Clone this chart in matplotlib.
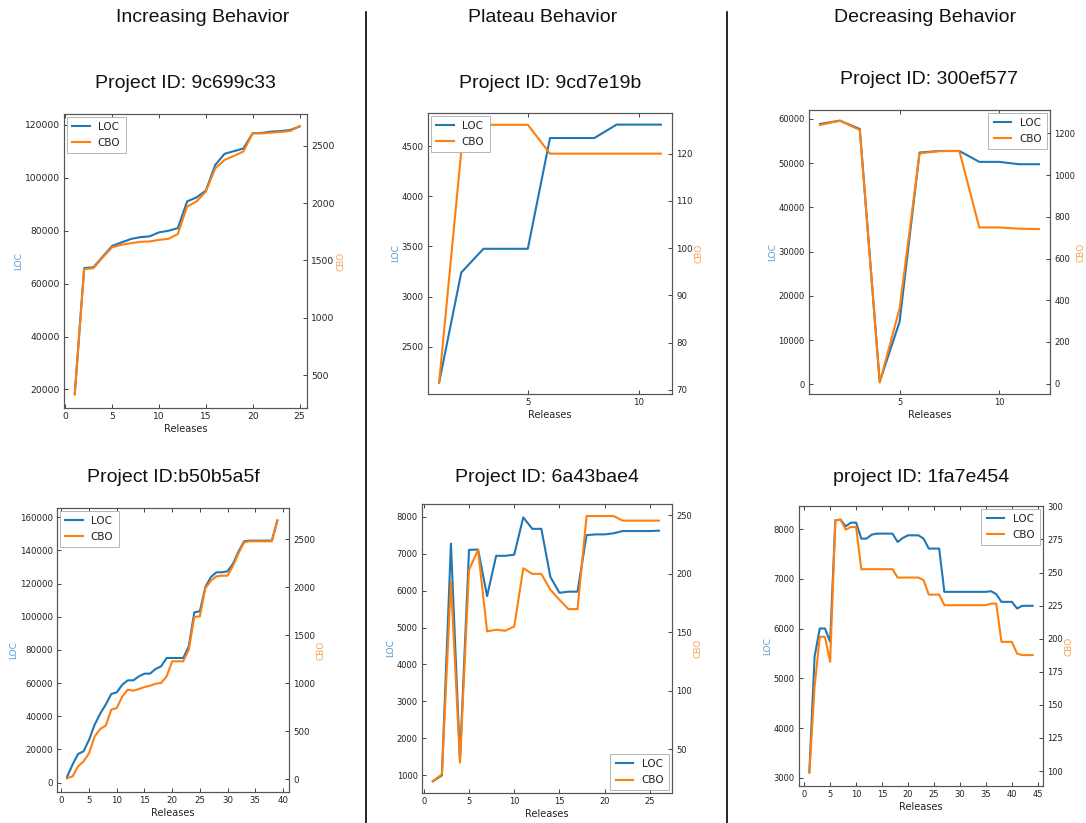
import matplotlib
matplotlib.use("Agg")
import matplotlib.pyplot as plt
from matplotlib.lines import Line2D

# ---------------- data ----------------
headers = ["Increasing Behavior", "Plateau Behavior", "Decreasing Behavior"]
titles = ["Project ID: 9c699c33", "Project ID: 9cd7e19b", "Project ID: 300ef577",
          "Project ID:b50b5a5f", "Project ID: 6a43bae4", "project ID: 1fa7e454"]

loc_9c699c33 = [18600, 65900, 66200, 70300, 74300, 75600, 76900, 77600, 77900, 79400,
                80000, 81000, 91100, 92600, 95200, 104900, 109100, 110100, 111100, 116900,
                117000, 117500, 117700, 118100, 119400]
cbo_9c699c33 = [328, 1424, 1433, 1529, 1616, 1637, 1651, 1663, 1666, 1680,
                1689, 1730, 1971, 2015, 2102, 2305, 2378, 2413, 2451, 2610,
                2610, 2616, 2622, 2631, 2674]

loc_9cd7e19b = [2140, 3240, 3477, 3477, 3477, 4583, 4583, 4583, 4717, 4717, 4717]
cbo_9cd7e19b = [71.5, 120.5, 126.1, 126.1, 126.1, 120, 120, 120, 120, 120, 120]

loc_300ef577 = [58870, 59620, 57740, 600, 14180, 52410, 52770, 52770, 50300, 50300, 49770, 49770]
cbo_300ef577 = [1240, 1261, 1216, 5, 361, 1104, 1115, 1115, 749, 749, 743, 741]

loc_b50b5a5f = [3400, 10850, 17290, 18890, 25930, 34970, 41600, 47040, 53470, 54470,
                59100, 61700, 61700, 64120, 65730, 65730, 68540, 70150, 75180, 75180,
                75180, 75180, 82210, 102710, 103320, 117990, 124020, 126830, 126830, 127440,
                132060, 139500, 145530, 145930, 145930, 145930, 145930, 145930, 158000]
cbo_b50b5a5f = [7, 28, 132, 184, 271, 444, 521, 556, 722, 740,
                861, 931, 920, 938, 958, 972, 993, 1000, 1069, 1226,
                1226, 1226, 1347, 1688, 1694, 1990, 2066, 2111, 2118, 2118,
                2222, 2354, 2465, 2476, 2476, 2476, 2476, 2476, 2694]

loc_6a43bae4 = [838, 1000, 7270, 1425, 7100, 7110, 5850, 6940, 6940, 6970,
                7980, 7670, 7670, 6370, 5940, 5970, 5970, 7500, 7520, 7520,
                7550, 7610, 7610, 7610, 7610, 7620]
cbo_6a43bae4 = [22.7, 28.4, 193.2, 38.4, 203.1, 220.2, 150.6, 152.0, 151.1, 154.8,
                204.5, 199.7, 199.7, 186.1, 177.6, 169.6, 169.6, 249.1, 249.1, 249.1,
                249.1, 245.2, 245.2, 245.2, 245.2, 245.2]

loc_1fa7e454 = [3124, 5435, 6004, 6004, 5736, 8181, 8194, 8060, 8134, 8134,
                7812, 7812, 7893, 7913, 7913, 7913, 7913, 7745, 7826, 7879,
                7879, 7879, 7812, 7612, 7612, 7612, 6741, 6741, 6741, 6741,
                6741, 6741, 6741, 6741, 6741, 6754, 6694, 6540, 6540, 6540,
                6406, 6460, 6460, 6460]
cbo_1fa7e454 = [98.7, 163.6, 201.4, 201.4, 182.5, 289.4, 289.9, 282.4, 284.4, 284.4,
                252.5, 252.5, 252.5, 252.5, 252.5, 252.5, 252.5, 246.2, 246.2, 246.2,
                246.2, 246.2, 244.2, 233.3, 233.3, 233.3, 225.3, 225.3, 225.3, 225.3,
                225.3, 225.3, 225.3, 225.3, 225.3, 226.5, 226.5, 197.6, 197.6, 197.6,
                188.8, 187.6, 187.6, 187.6]

loc_series = [loc_9c699c33, loc_9cd7e19b, loc_300ef577, loc_b50b5a5f, loc_6a43bae4, loc_1fa7e454]
cbo_series = [cbo_9c699c33, cbo_9cd7e19b, cbo_300ef577, cbo_b50b5a5f, cbo_6a43bae4, cbo_1fa7e454]

# ---------------- layout / style ----------------
W, H = 1086, 823
BLUE = "#1f77b4"
ORANGE = "#ff7f0e"

boxes = [(64, 307, 114, 408), (428, 672, 113, 394), (809, 1050, 110, 394),
         (57, 289, 508, 792), (422, 672, 504, 793), (799, 1043, 506, 786)]
xlims = [(-0.15, 25.8), (0.5, 11.5), (0.45, 12.55), (-0.8, 41.1), (-0.2, 27.45), (-1.0, 46.0)]
ylims_l = [(13000, 124150), (2027, 4833), (-2185, 62030), (-5630, 165600), (523, 8342), (2833, 8469)]
ylims_r = [(212, 2779), (69.15, 128.6), (-49.5, 1312), (-135, 2823), (12.5, 259.4), (88.7, 300.25)]
xticks = [range(0, 26, 5), [5, 10], [5, 10], range(0, 41, 5), range(0, 26, 5), range(0, 46, 5)]
yticks_l = [range(20000, 120001, 20000), range(2500, 4501, 500), range(0, 60001, 10000),
            range(0, 160001, 20000), range(1000, 8001, 1000), range(3000, 8001, 1000)]
yticks_r = [range(500, 2501, 500), range(70, 121, 10), range(0, 1201, 200),
            range(0, 2501, 500), range(50, 251, 50), range(100, 301, 25)]
legend_locs = ["upper left", "upper left", "upper right", "upper left", "lower right", "upper right"]
tick_sizes = [6.6, 6.2, 6.0, 6.2, 6.0, 6.0]
title_y = [83, 83, 80, 477, 477, 477]

fig = plt.figure(figsize=(W / 100, H / 100), dpi=100)
TXT = "#222222"
SP = "#555555"

for i in range(6):
    x0, x1, y0, y1 = boxes[i]
    ax = fig.add_axes([x0 / W, 1 - y1 / H, (x1 - x0) / W, (y1 - y0) / H])
    ax2 = ax.twinx()
    xs = list(range(1, len(loc_series[i]) + 1))
    l1, = ax.plot(xs, loc_series[i], color=BLUE, lw=1.5, label="LOC")
    l2, = ax2.plot(xs, cbo_series[i], color=ORANGE, lw=1.5, label="CBO")
    ax.set_xlim(*xlims[i])
    ax.set_ylim(*ylims_l[i])
    ax2.set_ylim(*ylims_r[i])
    ax.set_xticks(list(xticks[i]))
    ax.set_yticks(list(yticks_l[i]))
    ax2.set_yticks(list(yticks_r[i]))
    ts = tick_sizes[i]
    ax.tick_params(direction="in", top=True, right=False, length=3, width=0.6,
                   labelsize=ts, colors=TXT, pad=3)
    ax2.tick_params(direction="in", length=3, width=0.6, labelsize=ts, colors=TXT, pad=3)
    for a in (ax, ax2):
        for s in a.spines.values():
            s.set_color(SP)
            s.set_linewidth(0.8)
    ax.set_ylabel("LOC", color="#5a9bd0", fontsize=6.5, labelpad=1)
    ax2.set_ylabel("CBO", color="#f7a252", fontsize=6.5, labelpad=1)
    ax.set_xlabel("Releases", color=TXT, fontsize=7, labelpad=2)
    leg = ax2.legend([l1, l2], ["LOC", "CBO"], loc=legend_locs[i], fontsize=7.5,
                     fancybox=False, framealpha=1, edgecolor="#aaaaaa",
                     handlelength=1.7, borderpad=0.5, labelspacing=0.6,
                     borderaxespad=0.25)
    leg.get_frame().set_linewidth(0.6)
    for t in leg.get_texts():
        t.set_color(TXT)
    cx = (x0 + x1) / 2
    fig.text(cx / W, 1 - title_y[i] / H, titles[i], ha="center", va="center",
             fontsize=14, family="Liberation Sans", color="#111111")

header_x = [203, 543, 925]
for hx, h in zip(header_x, headers):
    fig.text(hx / W, 1 - 18 / H, h, ha="center", va="center", fontsize=14,
             family="Liberation Sans", color="#111111")

for lx in (366, 727):
    fig.add_artist(Line2D([lx / W, lx / W], [1 - 12 / H, 0], color="black", lw=1.2))

fig.savefig("out.png", dpi=100)
